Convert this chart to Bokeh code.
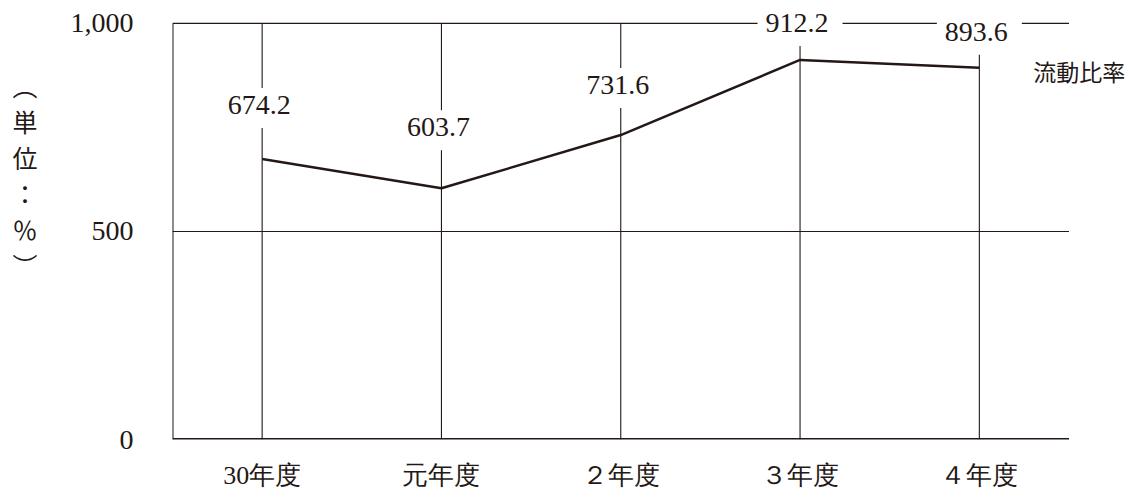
from bokeh.plotting import figure
from bokeh.models import Range1d, FixedTicker, Label, LinearAxis
from bokeh.embed import file_html
from bokeh.resources import INLINE

categories = ["30年度", "元年度", "２年度", "３年度", "４年度"]
ratio = [674.2, 603.7, 731.6, 912.2, 893.6]
value_labels = ["674.2", "603.7", "731.6", "912.2", "893.6"]
y_ticks = [0, 500, 1000]
y_tick_labels = {0: "0", 500: "500", 1000: "1,000"}
grid_values = [500, 1000]
series_name = "流動比率"
unit_label = "︵\n単\n位\n：\n％\n︶"

# styling / layout constants
label_offsets = [51, 58, 47, 34, 33]   # px above each point
UNIT_POS = 635                          # vertical centre of unit label (data units)
Y_TOP = 1055                            # room above the 1,000 line for labels
X_RIGHT = 4.9155                        # room at right for the series name

INK = "#231815"
SERIF = "Liberation Serif"
CJK = "Noto Sans CJK JP"

xs = list(range(len(categories)))
x_lo, x_hi = -0.5, len(categories) - 0.5

p = figure(width=1143, height=492, x_range=Range1d(x_lo, X_RIGHT),
           y_range=Range1d(0, Y_TOP), output_backend="svg", toolbar_location=None,
           min_border_left=172, min_border_right=0, min_border_top=0, min_border_bottom=52)
p.outline_line_color = None
p.background_fill_color = "white"
p.xgrid.visible = False
p.ygrid.visible = False

# grid lines (horizontal at 500, 1000; vertical at each category)
p.segment(x0=[x_lo] * len(grid_values), y0=grid_values, x1=[x_hi] * len(grid_values),
          y1=grid_values, line_color=INK, line_width=1.1)
p.segment(x0=xs, y0=[0] * len(xs), x1=xs, y1=[y_ticks[-1]] * len(xs),
          line_color=INK, line_width=1.1)
# frame: left border and bottom axis line
p.segment(x0=[x_lo], y0=[0], x1=[x_lo], y1=[y_ticks[-1]], line_color=INK, line_width=2)
p.segment(x0=[x_lo], y0=[0], x1=[x_hi], y1=[0], line_color=INK, line_width=2.8)

p.line(xs, ratio, line_color=INK, line_width=2.5)

# y axis
p.yaxis.ticker = FixedTicker(ticks=y_ticks)
p.yaxis.major_label_overrides = y_tick_labels
p.yaxis.major_tick_line_color = None
p.yaxis.major_tick_out = 0
p.yaxis.major_tick_in = 0
p.yaxis.minor_tick_line_color = None
p.yaxis.axis_line_color = None
p.yaxis.major_label_standoff = 39
p.yaxis.major_label_text_font = SERIF
p.yaxis.major_label_text_font_size = "28px"
p.yaxis.major_label_text_color = INK

# unit label as outer left axis
unit_axis = LinearAxis(ticker=FixedTicker(ticks=[UNIT_POS]),
                       major_label_overrides={UNIT_POS: unit_label},
                       major_tick_line_color=None, major_tick_out=0, major_tick_in=0,
                       minor_tick_line_color=None, axis_line_color=None,
                       major_label_standoff=30, major_label_text_font=CJK,
                       major_label_text_font_size="25px", major_label_text_color=INK,
                       major_label_text_line_height=1.0)
p.add_layout(unit_axis, "left")

# x axis
p.xaxis.ticker = FixedTicker(ticks=xs)
p.xaxis.major_label_overrides = {i: c for i, c in zip(xs, categories)}
p.xaxis.major_tick_line_color = None
p.xaxis.major_tick_out = 0
p.xaxis.major_tick_in = 0
p.xaxis.minor_tick_line_color = None
p.xaxis.axis_line_color = None
p.xaxis.major_label_standoff = 21
p.xaxis.major_label_text_font = SERIF
p.xaxis.major_label_text_font_size = "26px"
p.xaxis.major_label_text_color = INK

for x, v, t, off in zip(xs, ratio, value_labels, label_offsets):
    p.add_layout(Label(x=x, y=v, y_offset=off, text=t, text_align="center",
                       text_baseline="middle", text_font=SERIF, text_font_size="28px",
                       text_color=INK, background_fill_color="white", padding=(8, 14, 8, 14)))

p.add_layout(Label(x=xs[-1], y=ratio[-1], x_offset=54, y_offset=-3, text=series_name,
                   text_align="left", text_baseline="middle", text_font=CJK,
                   text_font_size="23px", text_color=INK))

open("out.html", "w").write(file_html(p, INLINE))
